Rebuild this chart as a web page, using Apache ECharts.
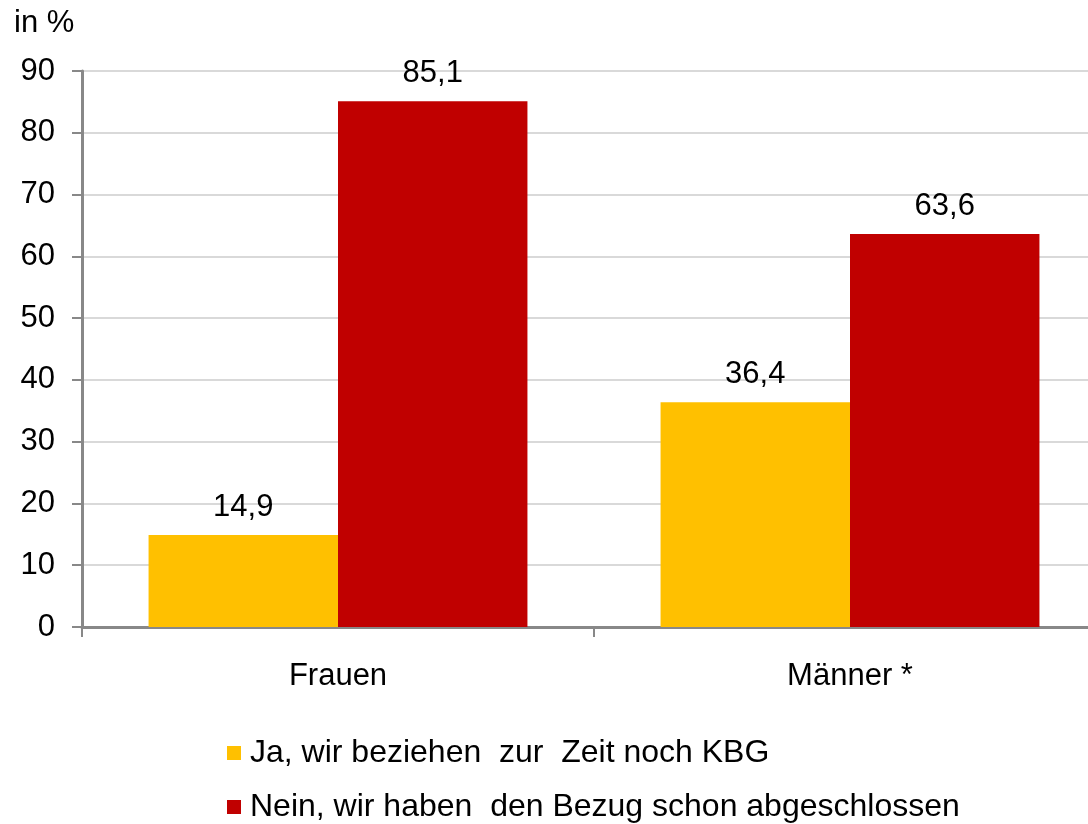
<!DOCTYPE html>
<html>
<head>
<meta charset="utf-8">
<script src="https://cdn.jsdelivr.net/npm/echarts@6/dist/echarts.min.js"></script>
<style>
  html, body { margin: 0; padding: 0; background: #fff; overflow: hidden; }
  #chart { width: 1106px; height: 824px; }
</style>
</head>
<body>
<div id="chart"></div>
<script>
var categories = ['Frauen', 'M\u00e4nner *'];
var seriesNames = ['Ja, wir beziehen  zur  Zeit noch KBG', 'Nein, wir haben  den Bezug schon abgeschlossen'];
var jaValues = [14.9, 36.4];
var neinValues = [85.1, 63.6];
var colors = ['#ffc000', '#c00000'];

var font = 'Liberation Sans, Arial, sans-serif';
var fs = 31;

var chart = echarts.init(document.getElementById('chart'));

function fmt(p) {
    return String(p.value).replace('.', ',');
}

function legendItem(name, top) {
    return {
        left: 222,
        top: top,
        itemWidth: 14,
        itemHeight: 14,
        icon: 'rect',
        textStyle: { fontSize: 32, color: '#000', fontFamily: font, padding: [0, 0, 0, 4] },
        data: [name]
    };
}

chart.setOption({
    animation: false,
    textStyle: { fontFamily: font },
    graphic: [{
        type: 'text',
        left: 14,
        top: 8,
        style: { text: 'in %', font: fs + 'px ' + font, fill: '#000' }
    }],
    grid: { left: 82, top: 71, right: 0, height: 556, containLabel: false },
    legend: [legendItem(seriesNames[0], 732), legendItem(seriesNames[1], 786)],
    xAxis: {
        type: 'category',
        data: categories,
        axisLine: { lineStyle: { color: '#888', width: 3 } },
        axisTick: { show: true, length: 10, lineStyle: { color: '#888', width: 2 } },
        axisLabel: { fontSize: fs, color: '#000', margin: 34, fontFamily: font }
    },
    yAxis: {
        type: 'value',
        min: 0,
        max: 90,
        interval: 10,
        axisLine: { show: true, lineStyle: { color: '#888', width: 3 } },
        axisTick: { show: true, length: 10, lineStyle: { color: '#888', width: 2 } },
        axisLabel: { fontSize: fs, color: '#000', margin: 27, fontFamily: font },
        splitLine: { lineStyle: { color: '#d9d9d9', width: 2 } }
    },
    series: [{
        name: seriesNames[0],
        type: 'bar',
        data: jaValues,
        barGap: '0%',
        barCategoryGap: '26%',
        itemStyle: { color: colors[0] },
        label: { show: true, position: 'top', distance: 12, fontSize: fs, color: '#000', formatter: fmt, fontFamily: font }
    }, {
        name: seriesNames[1],
        type: 'bar',
        data: neinValues,
        itemStyle: { color: colors[1] },
        label: { show: true, position: 'top', distance: 12, fontSize: fs, color: '#000', formatter: fmt, fontFamily: font }
    }]
});
</script>
</body>
</html>
